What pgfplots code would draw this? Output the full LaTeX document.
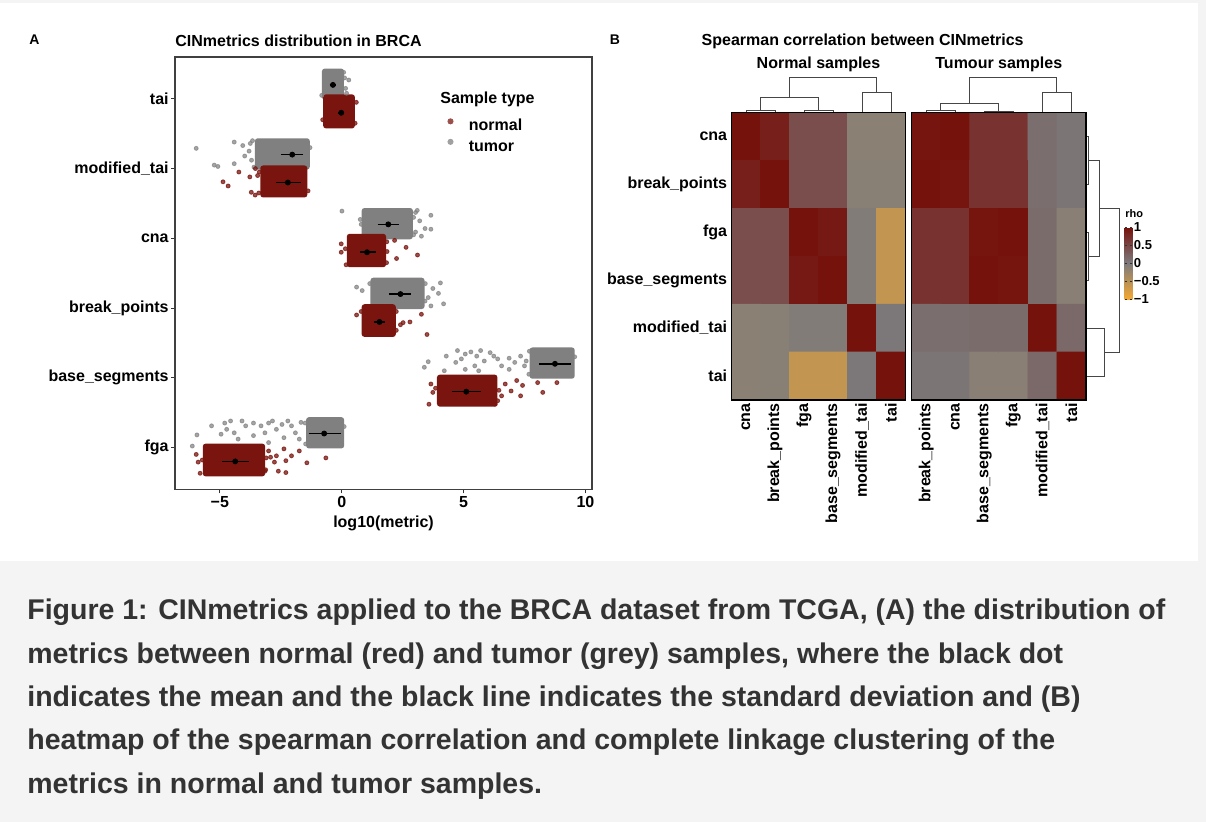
\documentclass[border=0pt]{standalone}
\usepackage{fontspec}
\setmainfont{Liberation Sans}
\usepackage{pgfplots}
\pgfplotsset{compat=1.18}

\definecolor{nred}{RGB}{122,20,14}
\definecolor{tgrey}{RGB}{128,128,128}
\definecolor{capgrey}{RGB}{51,51,51}
\definecolor{bggrey}{RGB}{244,244,244}
\definecolor{dendro}{RGB}{70,70,70}
\pgfplotsset{colormap={rho}{rgb255(0cm)=(244,168,50); rgb255(1cm)=(124,122,124); rgb255(2cm)=(118,18,12)}}
\pgfplotsset{cloud/.style={forget plot, fill=#1, draw=#1, line width=1pt, rounded corners=1pt}}

% heatmap cells: column, row, rho
\pgfplotstableread{
x y c
0 0 1
1 0 0.88
2 0 0.42
3 0 0.42
4 0 -0.12
5 0 -0.12
0 1 0.88
1 1 1
2 1 0.42
3 1 0.42
4 1 -0.10
5 1 -0.10
0 2 0.42
1 2 0.42
2 2 1
3 2 0.93
4 2 -0.05
5 2 -0.58
0 3 0.42
1 3 0.42
2 3 0.93
3 3 1
4 3 -0.05
5 3 -0.58
0 4 -0.12
1 4 -0.10
2 4 -0.05
3 4 -0.05
4 4 1
5 4 0.02
0 5 -0.12
1 5 -0.10
2 5 -0.58
3 5 -0.58
4 5 0.02
5 5 1
}\normalcells
\pgfplotstableread{
x y c
0 0 0.97
1 0 1
2 0 0.69
3 0 0.69
4 0 0.12
5 0 0.05
0 1 1
1 1 0.97
2 1 0.69
3 1 0.69
4 1 0.12
5 1 0.05
0 2 0.69
1 2 0.69
2 2 0.98
3 2 1
4 2 0.14
5 2 -0.11
0 3 0.69
1 3 0.69
2 3 1
3 3 0.98
4 3 0.14
5 3 -0.11
0 4 0.12
1 4 0.12
2 4 0.14
3 4 0.14
4 4 1
5 4 0.16
0 5 0.05
1 5 0.05
2 5 -0.11
3 5 -0.11
4 5 0.16
5 5 1
}\tumourcells

\begin{document}
\bfseries\fontsize{8}{9.6}\selectfont
\begin{tikzpicture}
\fill[bggrey] (0,0) rectangle (603pt,-411pt);
\fill[white] (0,-1.5pt) rectangle (599pt,-280.5pt);

% ---------------- panel A
\begin{axis}[at={(87.5pt,-244.65pt)}, anchor=south west,
  scale only axis, width=208.5pt, height=216.15pt,
  xmin=-6.84, xmax=10.27, ymin=0.4, ymax=6.6,
  xtick={-5,0,5,10}, xticklabels={−5,0,5,10},
  ytick={1,...,6},
  yticklabels={fga,base\_segments,break\_points,cna,modified\_tai,tai},
  tick align=outside, tick pos=left, major tick length=2pt,
  tick style={black!80, line width=0.5pt},
  axis line style={black!75, line width=0.6pt},
  yticklabel style={inner sep=1pt}, xticklabel style={inner sep=1.5pt},
  unbounded coords=jump,
  legend style={at={(0.6525,0.859)}, anchor=north west, draw=none, fill=none,
    inner sep=0pt, row sep=2.5pt, column sep=7.7pt,
    nodes={inner sep=0pt, text height=6pt, text depth=1.5pt}},
  legend cell align=left]
\addlegendimage{legend image code/.code={\fill[nred!75] (0pt,2.5pt) circle (1.3pt);}}
\addlegendentry{normal}
\addlegendimage{legend image code/.code={\fill[tgrey!75] (0pt,2.5pt) circle (1.3pt);}}
\addlegendentry{tumor}

% tumour clouds (dense cores)
\addplot[cloud=tgrey] coordinates {(-0.77,6.0) (0.05,6.0) (0.05,6.42) (-0.77,6.42)} -- cycle;
\addplot[cloud=tgrey] coordinates {(-3.52,5.0) (-1.35,5.0) (-1.35,5.42) (-3.52,5.42)} -- cycle;
\addplot[cloud=tgrey] coordinates {(0.86,4.0) (2.88,4.0) (2.88,4.42) (0.86,4.42)} -- cycle;
\addplot[cloud=tgrey] coordinates {(1.22,3.0) (3.36,3.0) (3.36,3.42) (1.22,3.42)} -- cycle;
\addplot[cloud=tgrey] coordinates {(7.75,2.0) (9.52,2.0) (9.52,2.42) (7.75,2.42)} -- cycle;
\addplot[cloud=tgrey] coordinates {(-1.42,1.0) (0.06,1.0) (0.06,1.42) (-1.42,1.42)} -- cycle;
\addplot[forget plot, only marks, mark=*, mark size=1pt, color=tgrey, opacity=0.7] coordinates {
 (0.29,6.27) (0.2,6.08) (0.16,6.15) (-0.82,6.05) (0.12,6.3) (0.08,6.38)
 (-5.97,5.29) (-4.41,5.38) (-4.06,5.33) (-3.98,5.18) (-5.23,5.05) (-5.08,5.03) (-4.41,5.07) (-3.8,5.25) (-3.75,5.36)
 (-3.7,5.12) (-3.66,5.4) (-3.6,5.02) (-1.3,5.3)
 (0.01,4.39) (0.76,4.27) (3.03,4.37) (3.66,4.33) (3.42,4.14) (3.66,4.13) (3.27,4.03) (3.03,4.09) (3.2,4.25) (3.1,4.4)
 (0.8,4.2) (2.95,4.3) (2.95,4.05)
 (0.61,3.3) (0.84,3.25) (4.05,3.36) (3.74,3.28) (3.97,3.21) (4.18,3.06) (3.66,3.03) (3.55,3.15)
 (1.15,3.35) (3.42,3.1) (3.43,3.35)
 (3.39,2.15) (3.55,2.23) (4.29,2.31) (4.75,2.39) (5.07,2.34) (5.30,2.37) (5.54,2.31) (5.70,2.39) (6.09,2.36) (4.68,2.22)
 (5.07,2.12) (5.46,2.17) (5.85,2.24) (6.40,2.27) (6.56,2.17) (6.87,2.28) (7.10,2.22) (7.34,2.31) (7.50,2.17) (4.21,2.10)
 (5.62,2.10) (6.87,2.12) (4.91,2.27) (6.24,2.31) (7.57,2.24) (7.68,2.05) (7.7,2.38) (9.56,2.3)
 (-5.94,1.18) (-6.13,1.02) (-5.34,1.31) (-4.80,1.35) (-4.72,1.26) (-4.41,1.21) (-4.09,1.38) (-3.94,1.31) (-3.62,1.35)
 (-3.31,1.31) (-3.0,1.35) (-2.68,1.26) (-2.45,1.33) (-2.21,1.38) (-2.06,1.31) (-1.90,1.21) (-1.67,1.36) (-4.25,1.12)
 (-3.62,1.17) (-3.0,1.07) (-4.95,1.19) (-2.37,1.14) (-4.56,1.38) (-3.15,1.21) (-2.84,1.38) (-1.74,1.12)
 (-1.48,1.05) (-1.5,1.35) (0.1,1.3)};

% normal clouds (dense cores)
\addplot[cloud=nred] coordinates {(-0.72,5.59) (0.5,5.59) (0.5,6.05) (-0.72,6.05)} -- cycle;
\addplot[cloud=nred] coordinates {(-3.3,4.6) (-1.45,4.6) (-1.45,5.03) (-3.3,5.03)} -- cycle;
\addplot[cloud=nred] coordinates {(0.25,3.6) (1.78,3.6) (1.78,4.05) (0.25,4.05)} -- cycle;
\addplot[cloud=nred] coordinates {(0.86,2.6) (2.18,2.6) (2.18,3.04) (0.86,3.04)} -- cycle;
\addplot[cloud=nred] coordinates {(3.95,1.6) (6.35,1.6) (6.35,2.03) (3.95,2.03)} -- cycle;
\addplot[cloud=nred] coordinates {(-5.66,0.6) (-3.18,0.6) (-3.18,1.04) (-5.66,1.04)} -- cycle;
\addplot[forget plot, only marks, mark=*, mark size=1pt, color=nred, opacity=0.75] coordinates {
 (0.55,5.65) (-0.78,5.7) (0.6,5.95)
 (-4.87,4.81) (-4.66,4.75) (-4.22,4.95) (-3.54,5.0) (-3.71,4.66) (-3.77,4.88) (-3.55,4.62) (-3.45,4.9)
 (-3.4,4.65) (-3.38,4.95) (-1.38,4.68)
 (-0.02,3.92) (-0.02,3.8) (2.17,3.97) (2.64,3.87) (3.11,3.76) (2.25,3.71) (1.86,3.81) (0.15,3.85)
 (0.18,3.62) (1.85,3.95) (1.84,3.65)
 (0.61,2.9) (2.52,2.79) (2.8,2.8) (3.27,2.91) (3.5,2.62) (2.41,2.76) (0.8,2.95) (2.24,2.68) (2.24,2.95)
 (8.25,1.79) (8.83,1.93) (8.04,1.93) (7.42,1.89) (6.95,1.81) (6.56,1.74) (7.18,1.96) (6.71,1.91) (6.40,1.67) (7.34,1.74)
 (3.58,1.62) (3.66,1.91) (3.74,1.79) (5.93,2.0) (3.85,1.85) (6.45,1.82) (6.3,1.62)
 (-5.97,0.90) (-5.89,0.79) (-5.81,0.63) (-3.0,0.95) (-2.68,0.88) (-2.37,0.98) (-2.29,0.81) (-2.06,0.88) (-1.74,0.95)
 (-1.43,0.78) (-0.65,0.85) (-2.60,0.66) (-2.29,0.64) (-3.15,0.66) (-2.76,0.79) (-2.92,0.86)
 (-5.72,0.82) (-3.1,0.85) (-3.12,0.68)};

% mean +/- sd
\addplot[forget plot, black, line width=0.8pt] coordinates {
 (-0.5,6.2) (-0.22,6.2) (nan,nan) (-0.14,5.8) (0.1,5.8) (nan,nan)
 (-2.48,5.2) (-1.59,5.2) (nan,nan) (-2.71,4.8) (-1.67,4.8) (nan,nan)
 (1.47,4.2) (2.36,4.2) (nan,nan) (0.76,3.8) (1.39,3.8) (nan,nan)
 (1.94,3.2) (2.84,3.2) (nan,nan) (1.31,2.8) (1.78,2.8) (nan,nan)
 (8.09,2.2) (9.41,2.2) (nan,nan) (4.52,1.8) (5.70,1.8) (nan,nan)
 (-1.35,1.2) (-0.02,1.2) (nan,nan) (-4.92,0.8) (-3.81,0.8)};
\addplot[forget plot, only marks, mark=*, mark size=1.25pt, black] coordinates {
 (-0.36,6.2) (-0.02,5.8) (-2.03,5.2) (-2.21,4.8) (1.91,4.2) (1.04,3.8)
 (2.41,3.2) (1.55,2.8) (8.75,2.2) (5.11,1.8) (-0.72,1.2) (-4.37,0.8)};
\end{axis}

% ---------------- panel B, normal samples
\begin{axis}[at={(365.75pt,-200pt)}, anchor=south west,
  scale only axis, width=87pt, height=143.65pt,
  xmin=-0.5, xmax=5.5, ymin=-0.5, ymax=5.5, y dir=reverse,
  axis on top, clip=false,
  xtick={0,...,5}, xticklabels={cna,break\_points,fga,base\_segments,modified\_tai,tai},
  ytick={0,...,5}, yticklabels={cna,break\_points,fga,base\_segments,modified\_tai,tai},
  major tick length=0pt,
  xticklabel style={rotate=90, anchor=east, inner sep=1.5pt},
  yticklabel style={inner sep=2pt},
  axis line style={black, line width=0.6pt},
  colormap name=rho, point meta min=-1, point meta max=1]
\addplot[matrix plot*, mesh/cols=6, point meta=explicit] table[meta=c] {\normalcells};
\addplot[dendro, line width=0.5pt] coordinates {(0,-0.5) (0,-0.556) (1,-0.556) (1,-0.5)};
\addplot[dendro, line width=0.5pt] coordinates {(2,-0.5) (2,-0.542) (3,-0.542) (3,-0.5)};
\addplot[dendro, line width=0.5pt] coordinates {(0.5,-0.556) (0.5,-0.813) (2.5,-0.813) (2.5,-0.542)};
\addplot[dendro, line width=0.5pt] coordinates {(4,-0.5) (4,-0.918) (5,-0.918) (5,-0.5)};
\addplot[dendro, line width=0.5pt] coordinates {(1.5,-0.813) (1.5,-1.239) (4.5,-1.239) (4.5,-0.918)};
\end{axis}

% ---------------- panel B, tumour samples
\begin{axis}[at={(455.85pt,-200pt)}, anchor=south west,
  scale only axis, width=87.15pt, height=143.65pt,
  xmin=-0.5, xmax=5.5, ymin=-0.5, ymax=5.5, y dir=reverse,
  axis on top, clip=false,
  xtick={0,...,5}, xticklabels={break\_points,cna,base\_segments,fga,modified\_tai,tai},
  ytick=\empty,
  major tick length=0pt,
  xticklabel style={rotate=90, anchor=east, inner sep=1.5pt},
  axis line style={black, line width=0.6pt},
  colormap name=rho, point meta min=-1, point meta max=1,
  colorbar,
  colorbar style={at={(parent axis.north east)}, anchor=north west,
    xshift=10.8pt, yshift=-57.2pt, width=3.85pt, height=36pt,
    ytick={-1,-0.5,0,0.5,1}, yticklabels={−1,−0.5,0,0.5,1},
    major tick length=1pt, tick align=inside,
    tick style={black!80, line width=0.4pt},
    axis line style={draw=none},
    yticklabel style={font=\bfseries\fontsize{6.5}{7}\selectfont, inner sep=0.6pt}}]
\addplot[matrix plot*, mesh/cols=6, point meta=explicit] table[meta=c] {\tumourcells};
\addplot[dendro, line width=0.5pt] coordinates {(0,-0.5) (0,-0.542) (1,-0.542) (1,-0.5)};
\addplot[dendro, line width=0.5pt] coordinates {(2,-0.5) (2,-0.53) (3,-0.53) (3,-0.5)};
\addplot[dendro, line width=0.5pt] coordinates {(0.5,-0.542) (0.5,-0.696) (2.5,-0.696) (2.5,-0.53)};
\addplot[dendro, line width=0.5pt] coordinates {(4,-0.5) (4,-0.926) (5,-0.926) (5,-0.5)};
\addplot[dendro, line width=0.5pt] coordinates {(1.5,-0.696) (1.5,-1.239) (4.5,-1.239) (4.5,-0.926)};
% row dendrogram
\addplot[dendro, line width=0.5pt] coordinates {(5.5,0) (5.58,0) (5.58,1) (5.5,1)};
\addplot[dendro, line width=0.5pt] coordinates {(5.5,2) (5.58,2) (5.58,3) (5.5,3)};
\addplot[dendro, line width=0.5pt] coordinates {(5.58,0.5) (5.98,0.5) (5.98,2.5) (5.58,2.5)};
\addplot[dendro, line width=0.5pt] coordinates {(5.5,4) (6.15,4) (6.15,5) (5.5,5)};
\addplot[dendro, line width=0.5pt] coordinates {(5.98,1.5) (6.65,1.5) (6.65,4.5) (6.15,4.5)};
\end{axis}

% ---------------- titles and caption (positions in reference pixels)
\begin{scope}[x=0.5pt, y=-0.5pt]
\node[anchor=base west, inner sep=0, font=\bfseries\fontsize{7}{8}\selectfont] at (29,45) {A};
\node[anchor=base west, inner sep=0] at (175,46.7) {CINmetrics distribution in BRCA};
\node[anchor=base west, inner sep=0] at (440,104) {Sample type};
\node[anchor=base, inner sep=0] at (383.5,527.3) {log10(metric)};
\node[anchor=base west, inner sep=0, font=\bfseries\fontsize{7}{8}\selectfont] at (609.5,45) {B};
\node[anchor=base west, inner sep=0] at (701.3,45.5) {Spearman correlation between CINmetrics};
\node[anchor=base, inner sep=0] at (818.5,68.3) {Normal samples};
\node[anchor=base, inner sep=0] at (998.8,68.3) {Tumour samples};
\node[anchor=base west, inner sep=0, font=\bfseries\fontsize{5.5}{6}\selectfont] at (1125,217.3) {rho};
\begin{scope}[every node/.style={anchor=base west, inner sep=0, text=capgrey, font=\bfseries\fontsize{14.25}{17}\selectfont}]
\node at (27,619.5) {Figure 1: CINmetrics applied to the BRCA dataset from TCGA, (A) the distribution of};
\node at (27,663.3) {metrics between normal (red) and tumor (grey) samples, where the black dot};
\node at (27,706.6) {indicates the mean and the black line indicates the standard deviation and (B)};
\node at (27,749.9) {heatmap of the spearman correlation and complete linkage clustering of the};
\node at (27,793.2) {metrics in normal and tumor samples.};
\end{scope}
\end{scope}

\pgfresetboundingbox
\useasboundingbox (0,0) rectangle (603pt,-411pt);
\end{tikzpicture}
\end{document}
